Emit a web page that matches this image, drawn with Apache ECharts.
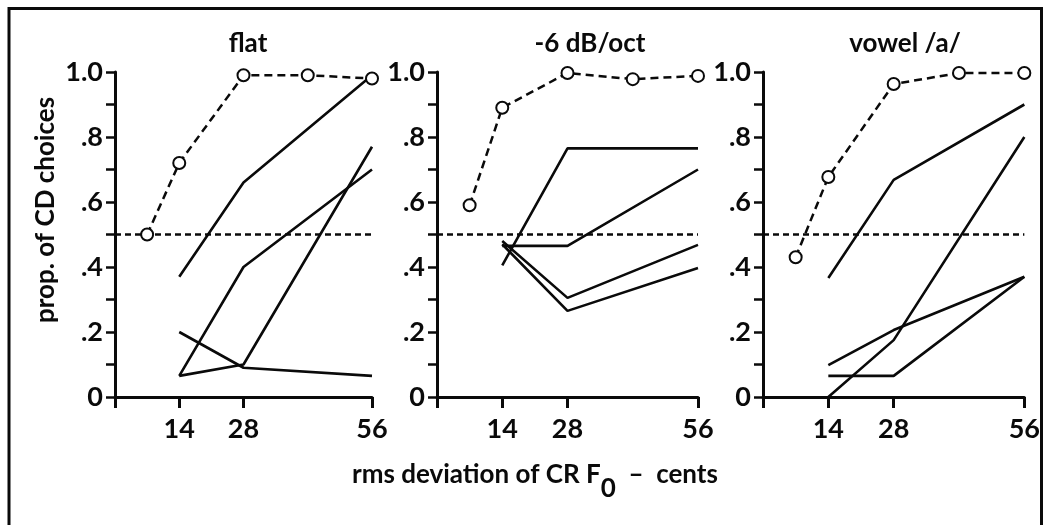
<!DOCTYPE html>
<html>
<head>
<meta charset="utf-8">
<script src="https://cdn.jsdelivr.net/npm/echarts@6/dist/echarts.min.js"></script>
<style>
  html, body { margin: 0; padding: 0; background: #fff; }
  #chart { width: 1043px; height: 525px; }
</style>
</head>
<body>
<div id="chart"></div>
<script>
// Proportion of CD choices vs. rms deviation of CR F0 (cents), three spectra
const panelTitles = ['flat', '-6 dB/oct', 'vowel /a/'];
const xTickValues = [0, 14, 28, 56];
const xLabelValues = [14, 28, 56];
const yTickLabels = ['0', '', '.2', '', '.4', '', '.6', '', '.8', '', '1.0'];
const chanceLevel = 0.5;

// dashed curve with open circles
const dashedX = [7, 14, 28, 42, 56];
const dashedFlat = [0.50, 0.72, 0.99, 0.99, 0.98];
const dashedSlope = [0.59, 0.89, 0.997, 0.978, 0.988];
const dashedVowel = [0.43, 0.677, 0.963, 0.997, 0.997];

// individual solid curves
const solidX = [14, 28, 56];
const solidFlat = [
  [0.37, 0.66, 0.99],
  [0.065, 0.40, 0.70],
  [0.065, 0.10, 0.77],
  [0.20, 0.09, 0.065]
];
const solidSlope = [
  [0.405, 0.765, 0.765],
  [0.465, 0.465, 0.70],
  [0.48, 0.305, 0.468],
  [0.47, 0.265, 0.397]
];
const solidVowel = [
  [0.366, 0.668, 0.90],
  [0.0, 0.175, 0.80],
  [0.098, 0.206, 0.37],
  [0.065, 0.065, 0.37]
];

const dashedSets = [dashedFlat, dashedSlope, dashedVowel];
const solidSets = [solidFlat, solidSlope, solidVowel];

const INK = '#0a0a0a';
const FONT = 'Lato, "Open Sans", sans-serif';
const gridBoxes = [
  { left: 115, top: 72, width: 257, height: 325 },
  { left: 437, top: 72, width: 261, height: 325 },
  { left: 763, top: 72, width: 262, height: 325 }
];
const titleCenters = [243, 585, 900];

const grid = [], xAxis = [], yAxis = [], series = [], title = [];

gridBoxes.forEach((box, i) => {
  grid.push(Object.assign({ containLabel: false }, box));
  title.push({
    text: panelTitles[i],
    left: titleCenters[i],
    top: 26,
    textAlign: 'center',
    textStyle: { fontFamily: FONT, fontSize: 26, fontWeight: 'bold', color: INK }
  });
  xAxis.push({
    type: 'value', gridIndex: i, min: 0, max: 56,
    axisLine: { show: true, onZero: false, lineStyle: { color: INK, width: 3 } },
    axisTick: { show: true, customValues: xTickValues, length: 11, inside: false,
                lineStyle: { color: INK, width: 3 } },
    axisLabel: { show: true, customValues: xLabelValues, margin: 19,
                 fontFamily: FONT, fontSize: 27, fontWeight: 'bold', color: INK },
    splitLine: { show: false }
  });
  yAxis.push({
    type: 'value', gridIndex: i, min: 0, max: 1, interval: 0.1,
    axisLine: { show: true, onZero: false, lineStyle: { color: INK, width: 3 } },
    axisTick: { show: true, length: 9, inside: false, lineStyle: { color: INK, width: 2.5 } },
    axisLabel: {
      show: true, margin: 12, fontFamily: FONT, fontSize: 27, fontWeight: 'bold', color: INK,
      formatter: v => yTickLabels[Math.round(v * 10)] || ''
    },
    splitLine: { show: false }
  });

  // open-circle dashed curve, carrying the chance line as a mark line
  series.push({
    type: 'line', xAxisIndex: i, yAxisIndex: i,
    data: dashedX.map((x, k) => [x, dashedSets[i][k]]),
    symbol: 'circle', symbolSize: 12, showSymbol: true,
    itemStyle: { color: '#fff', borderColor: INK, borderWidth: 2 },
    lineStyle: { color: INK, width: 2.5, type: [8, 5] },
    z: 5,
    animation: false,
    markLine: {
      silent: true, symbol: 'none', label: { show: false },
      lineStyle: { color: INK, width: 2.5, type: [6, 4] },
      data: [{ yAxis: chanceLevel }],
      animation: false
    }
  });

  solidSets[i].forEach(vals => {
    series.push({
      type: 'line', xAxisIndex: i, yAxisIndex: i,
      data: solidX.map((x, k) => [x, vals[k]]),
      symbol: 'none',
      lineStyle: { color: INK, width: 2.6 },
      z: 3,
      animation: false
    });
  });
});

const chart = echarts.init(document.getElementById('chart'), null, { renderer: 'canvas' });
chart.setOption({
  backgroundColor: '#fff',
  animation: false,
  title,
  grid, xAxis, yAxis, series,
  graphic: [
    {
      type: 'polyline', silent: true,
      shape: { points: [[9, 530], [9, 8.5], [1041.5, 8.5], [1041.5, 530]] },
      style: { stroke: INK, lineWidth: 3, fill: null }
    },
    {
      type: 'text', silent: true,
      x: 46, y: 210, rotation: Math.PI / 2,
      style: {
        text: 'prop. of CD choices', fill: INK,
        font: 'bold 26px ' + FONT, align: 'center', verticalAlign: 'middle'
      }
    },
    {
      type: 'text', silent: true,
      x: 352, y: 467,
      style: {
        text: '{a|rms deviation of CR F}{s|0}{a|  \u2013  cents}',
        fill: INK, align: 'left', verticalAlign: 'top',
        rich: {
          a: { font: 'bold 26px ' + FONT, fill: INK, lineHeight: 30, padding: [0, 0, 14, 0] },
          s: { font: 'bold 26px ' + FONT, fill: INK, lineHeight: 30, padding: [14, 0, 0, 0] }
        }
      }
    }
  ]
});
</script>
</body>
</html>
